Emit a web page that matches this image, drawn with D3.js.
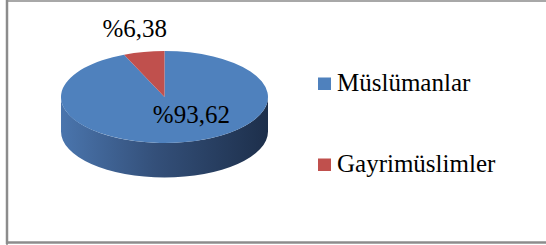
<!DOCTYPE html>
<html>
<head>
<meta charset="utf-8">
<script src="https://cdn.jsdelivr.net/npm/d3@7"></script>
</head>
<body style="margin:0">
<script>
const width = 546;
const height = 245;

const categories = ["Müslümanlar", "Gayrimüslimler"];
const values = [93.62, 6.38];
const colors = ["#4f81bd", "#c0504d"];

// pie geometry (top ellipse + extruded side)
const cx = 164.5, cy = 97, rx = 103.5, ry = 46, depth = 34.5;

const svg = d3.select("body")
  .append("svg")
  .attr("width", width)
  .attr("height", height)
  .style("display", "block")
  .style("font-family", '"Liberation Serif"')
  .style("font-size", "25px");

// frame
svg.append("path")
  .attr("d", `M7,${height} V1 H${width}`)
  .attr("fill", "none").attr("stroke", "#8c8c8c").attr("stroke-width", 1.5);
svg.append("line")
  .attr("x1", 7).attr("x2", 7).attr("y1", 0).attr("y2", 244)
  .attr("stroke", "#8c8c8c").attr("stroke-width", 2.5);
svg.append("line")
  .attr("x1", 6).attr("x2", width).attr("y1", 242.5).attr("y2", 242.5)
  .attr("stroke", "#8c8c8c").attr("stroke-width", 2.5);

const data = categories.map((c, i) => ({ name: c, value: values[i], color: colors[i] }));

const arcs = d3.pie()
  .sort(null)
  .value(d => d.value)(data);

const px = a => cx + rx * Math.sin(a);
const py = a => cy - ry * Math.cos(a);

// side gradient
const defs = svg.append("defs");
const grad = defs.append("linearGradient")
  .attr("id", "side").attr("x1", 0).attr("x2", 1).attr("y1", 0).attr("y2", 0);
grad.append("stop").attr("offset", "0%").attr("stop-color", "#4a75ad");
grad.append("stop").attr("offset", "45%").attr("stop-color", "#34507a");
grad.append("stop").attr("offset", "100%").attr("stop-color", "#1d2f4b");

// side walls, only the front half (pi/2 .. 3pi/2) is visible
svg.append("g")
  .selectAll("path")
  .data(arcs.filter(d => d.endAngle > Math.PI / 2 && d.startAngle < 3 * Math.PI / 2))
  .join("path")
    .attr("fill", "url(#side)")
    .attr("d", d => {
      const a0 = Math.max(d.startAngle, Math.PI / 2);
      const a1 = Math.min(d.endAngle, 3 * Math.PI / 2);
      const large = a1 - a0 > Math.PI ? 1 : 0;
      return `M${px(a0)},${py(a0)}` +
        `A${rx},${ry} 0 ${large} 1 ${px(a1)},${py(a1)}` +
        `L${px(a1)},${py(a1) + depth}` +
        `A${rx},${ry} 0 ${large} 0 ${px(a0)},${py(a0) + depth}Z`;
    });

// top face
const arc = d3.arc().innerRadius(0).outerRadius(rx);
svg.append("g")
  .attr("transform", `translate(${cx},${cy}) scale(1,${ry / rx})`)
  .selectAll("path")
  .data(arcs)
  .join("path")
    .attr("fill", d => d.data.color)
    .attr("d", arc);

// labels
const fmt = v => "%" + d3.format(".2f")(v).replace(".", ",");
const labelPos = d => {
  const m = (d.startAngle + d.endAngle) / 2;
  if (d.data.value > 50) {
    return [cx + rx * 0.26, cy + 26];
  }
  return [cx + rx * 1.3 * Math.sin(m) - 3, cy - ry * 1.3 * Math.cos(m) - 1];
};

svg.append("g")
  .selectAll("text")
  .data(arcs)
  .join("text")
    .attr("x", d => labelPos(d)[0])
    .attr("y", d => labelPos(d)[1])
    .attr("text-anchor", "middle")
    .attr("fill", "#000")
    .text(d => fmt(d.data.value));

// legend
const legendY = d3.scalePoint().domain(categories).range([91, 172]);
const legend = svg.append("g")
  .selectAll("g")
  .data(data)
  .join("g")
    .attr("transform", d => `translate(318,${legendY(d.name)})`);

legend.append("rect")
  .attr("x", 0).attr("y", -13.5)
  .attr("width", 13).attr("height", 12.5)
  .attr("fill", d => d.color);

legend.append("text")
  .attr("x", 19)
  .attr("y", 0)
  .attr("fill", "#000")
  .text(d => d.name);
</script>
</body>
</html>
